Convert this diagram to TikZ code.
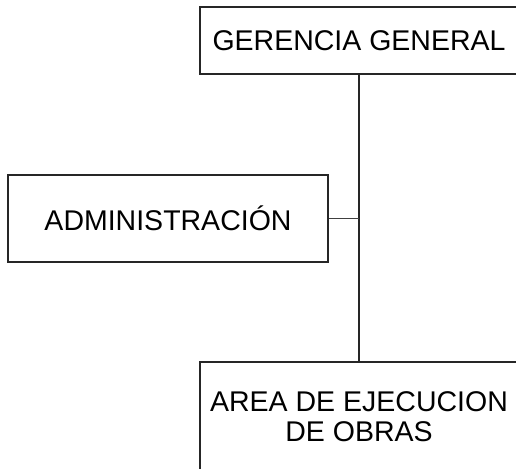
\documentclass[tikz,border=0pt]{standalone}
\usepackage{fontspec}
\setmainfont{Liberation Sans}
\usepackage{tikz}
\usetikzlibrary{positioning}
\usetikzlibrary{calc}

\begin{document}
\begin{tikzpicture}[x=1pt, y=-1pt,
	orgbox/.style={rectangle, draw=black!85, line width=1.5pt, fill=white, inner sep=0pt,
		font=\fontsize{28.5}{30}\selectfont, align=center}]
	\useasboundingbox (0,0) rectangle (516,468);
	\clip (0,0) rectangle (516,468);
	\node[orgbox, minimum width=318pt, minimum height=67pt] (gerencia) at (359,40.5){GERENCIA GENERAL};
	\node[orgbox, minimum width=320pt, minimum height=87pt] (admin) at (168,218.5){ADMINISTRACIÓN};
	\node[orgbox, minimum width=318pt, minimum height=110pt] (obras) at (359,417){AREA DE EJECUCION\\DE OBRAS};
	\draw[line width=1.5pt, black!85] (gerencia.south) -- (obras.north);
	\draw[line width=0.8pt, black!75] (admin.east) -- (admin.east -| gerencia.south);
\end{tikzpicture}
\end{document}
